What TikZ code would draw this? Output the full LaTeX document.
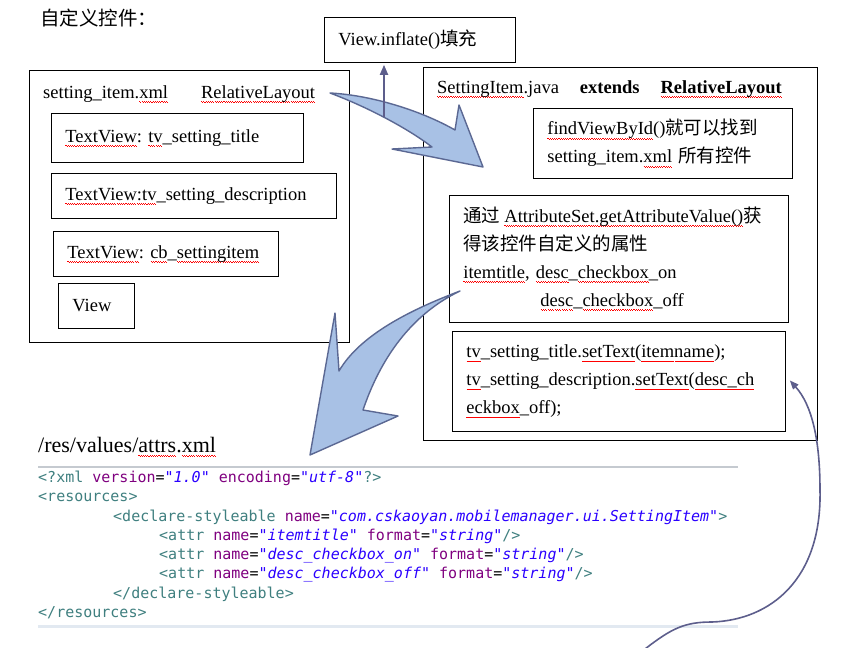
\documentclass[tikz,border=0pt]{standalone}
\usepackage{fontspec}
\setmainfont{Liberation Serif}
\newfontfamily\cjk{Noto Sans CJK SC}
\newfontfamily\codefont{DejaVu Sans Mono}
\usepackage{xcolor}
\usetikzlibrary{arrows.meta}

\definecolor{arrowfill}{HTML}{A8C1E5}
\definecolor{arrowline}{HTML}{5B6893}
\definecolor{linkline}{HTML}{5D5E8C}
\definecolor{tagc}{HTML}{3F7F7F}
\definecolor{attc}{HTML}{7F007F}
\definecolor{valc}{HTML}{2A00FF}
\definecolor{rulec}{HTML}{C5CAD0}
\definecolor{rulelow}{HTML}{E2E9F1}

\newsavebox\wvword
\newcommand\wvunit{\rule[0pt]{1.1pt}{0.6pt}\rule[-0.9pt]{1.1pt}{0.6pt}}
\newcommand\wv[1]{\leavevmode\sbox\wvword{#1}\rlap{\lower3.5pt\hbox to\wd\wvword{\color{red}\xleaders\hbox{\wvunit}\hfil}}\usebox\wvword}
\newcommand\xtag[1]{\textcolor{tagc}{#1}}
\newcommand\xatt[1]{\textcolor{attc}{#1}}
\newcommand\xval[1]{\textcolor{valc}{\itshape #1}}
\frenchspacing

\begin{document}
\begin{tikzpicture}[x=1pt, y=-1pt, font=\fontsize{18.5}{28}\selectfont,
  box/.style={draw, line width=0.8pt, anchor=north west, inner xsep=14pt, inner ysep=0pt, align=left},
  frame/.style={draw, line width=0.8pt, anchor=north west, inner sep=0pt},
  txt/.style={anchor=west, inner sep=0pt},
  code/.style={anchor=west, inner sep=0pt, font=\codefont\fontsize{15}{19}\selectfont},
  bigarrow/.style={fill=arrowfill, draw=arrowline, line width=1.4pt, line join=round},
  link/.style={draw=linkline, line width=1.8pt, -{Triangle[width=8pt,length=10pt]}}]

  \useasboundingbox (0,0) rectangle (841,648);

  \node[txt, font=\cjk\fontsize{19.5}{19.5}\selectfont] (head) at (40,18) {自定义控件：};
  \node[box, minimum width=191pt, minimum height=45pt, text width=163pt] (inflate) at (324,17) {View.inflate(){\cjk 填充}};

  \node[frame, minimum width=320pt, minimum height=272pt] (layout) at (29,70)  {};
  \node[txt]                                                (layouttitle) at (43,94) {setting\_item.\wv{xml}\hspace{33pt}\wv{RelativeLayout}};
  \node[box, minimum width=252pt, minimum height=49pt, text width=224pt] (tvtitle) at (51,113) {\wv{TextView}: \wv{tv}\_setting\_title};
  \node[box, minimum width=285pt, minimum height=45pt, text width=257pt] (tvdesc)  at (51,173) {\wv{TextView:tv}\_setting\_description};
  \node[box, minimum width=225pt, minimum height=45pt, text width=197pt] (tvcheck) at (53,231) {\wv{TextView}: \wv{cb}\_\wv{settingitem}};
  \node[box, minimum width=76pt,  minimum height=45pt, text width=48pt]  (view)    at (58,283) {View};

  \node[frame, minimum width=394pt, minimum height=373pt] (item) at (423,67) {};
  \node[txt] (itemtitle) at (437,89) {\wv{SettingItem}.java\hspace{21pt}\textbf{extends}\hspace{21pt}\textbf{\wv{RelativeLayout}}};
  \node[box, minimum width=259pt, minimum height=70pt,  text width=231pt] (find)    at (533,108)
    {\mbox{\wv{findViewById}(){\cjk 就可以找到}}\\\mbox{setting\_item.\wv{xml} {\cjk 所有控件}}};
  \node[box, minimum width=339pt, minimum height=127pt, text width=311pt] (attrs)   at (449,195)
    {\mbox{{\cjk 通过}\hspace{4pt}\wv{AttributeSet.getAttributeValue()}{\cjk 获}}\\\mbox{\cjk 得该控件自定义的属性}\\
     \mbox{\wv{itemtitle}, \wv{desc}\_\wv{checkbox}\_on}\\\hspace*{77pt}\mbox{\wv{desc}\_\wv{checkbox}\_off}};
  \node[box, minimum width=333pt, minimum height=100pt, text width=305pt] (settext) at (452,331)
    {\mbox{\wv{tv}\_setting\_title.\wv{setText}(\wv{itemname});}\\\mbox{\wv{tv}\_setting\_description.\wv{setText}(\wv{desc\_ch}}\\\mbox{\wv{eckbox}\_off);}};

  \node[txt, font=\fontsize{22}{22}\selectfont] (attrfile) at (38,447) {/res/values/\wv{attrs}.\wv{xml}};
  \draw[rulec, line width=2pt] (38,467) -- (738,467);
  \node[code] (xml1) at (38,478)  {\xtag{<?xml} \xatt{version}=\xval{"1.0"} \xatt{encoding}=\xval{"utf-8"}\xtag{?>}};
  \node[code] (xml2) at (38,497)  {\xtag{<resources>}};
  \node[code] (xml3) at (113,517) {\xtag{<declare-styleable} \xatt{name}=\xval{"com.cskaoyan.mobilemanager.ui.SettingItem"}\xtag{>}};
  \node[code] (xml4) at (159,536) {\xtag{<attr} \xatt{name}=\xval{"itemtitle"} \xatt{format}=\xval{"string"}\xtag{/>}};
  \node[code] (xml5) at (159,556) {\xtag{<attr} \xatt{name}=\xval{"desc\_checkbox\_on"} \xatt{format}=\xval{"string"}\xtag{/>}};
  \node[code] (xml6) at (159,575) {\xtag{<attr} \xatt{name}=\xval{"desc\_checkbox\_off"} \xatt{format}=\xval{"string"}\xtag{/>}};
  \node[code] (xml7) at (113,594) {\xtag{</declare-styleable>}};
  \node[code] (xml8) at (38,613)  {\xtag{</resources>}};
  \draw[rulelow, line width=3pt] (38,626) -- (738,626);

  \draw[bigarrow] (330,93) .. controls (370,95) and (420,110) .. (455,130) -- (459,105) -- (483,167) -- (392,149) -- (432,147)
                  .. controls (410,130) and (370,108) .. (330,93) -- cycle;
  \draw[bigarrow] (460,291) .. controls (410,310) and (360,335) .. (339,371) -- (335,313) -- (310,455) -- (398,416) -- (363,410)
                  .. controls (380,360) and (410,315) .. (460,291) -- cycle;

  \coordinate (inflfoot) at (384,117);
  \coordinate (codefoot) at (645,649);
  \draw[link, shorten >=2pt] (inflfoot) -- (inflfoot |- inflate.south);
  \draw[link, line width=1.6pt, -{Triangle[width=7pt,length=9pt]}] (codefoot) .. controls (672,628) and (685,622) .. (712,622)
        .. controls (770,620) and (822,580) .. (820,490) .. controls (820,440) and (812,405) .. ([xshift=4pt,yshift=1pt]settext.east);

\end{tikzpicture}
\end{document}
